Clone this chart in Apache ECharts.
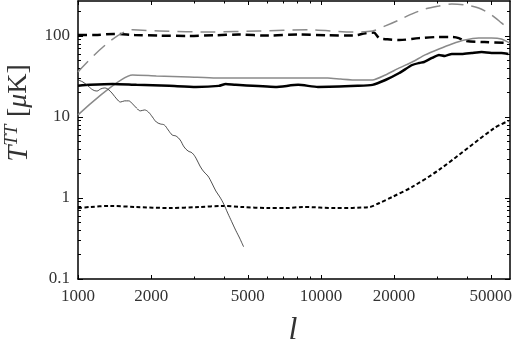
<!DOCTYPE html>
<html>
<head>
    <meta charset="UTF-8"/>
    <script type="text/javascript" src="https://cdn.jsdelivr.net/npm/echarts@6/dist/echarts.min.js"></script>
    <style>
        html, body { margin: 0; padding: 0; background: #fff; }
        #chart { width: 515px; height: 354px; }
    </style>
</head>
<body>
<div id="chart"></div>

<script type="application/javascript">
    // tick values
    var xMajor = [1000, 2000, 5000, 10000, 20000, 50000];
    var xMinor = [3000, 4000, 6000, 7000, 8000, 9000, 30000, 40000];
    var yMajor = [0.1, 1, 10, 100];
    var yMinor = [0.2, 0.3, 0.4, 0.5, 0.6, 0.7, 0.8, 0.9, 2, 3, 4, 5, 6, 7, 8, 9,
                  20, 30, 40, 50, 60, 70, 80, 90, 200];

    // thick black dashed
    var lA = [1000, 1173, 1403, 1709, 2161, 2865, 3624, 4583, 6077, 8056, 10680, 13510, 15270, 16460,
              17410, 18770, 21010, 25360, 30600, 34580, 36930, 39060, 47150, 59070];
    var tA = [103, 103, 106, 103, 101, 100, 102, 104, 101, 104, 102, 101, 108, 110,
              94, 91, 89, 94, 97, 97, 94, 87, 84, 82];

    // grey long dashed
    var lB = [1000, 1677, 2161, 3556, 5534, 8850, 13510, 16300, 18420, 21010, 23740, 26830, 30600,
              34580, 39060, 44570, 50360, 55340, 59700];
    var tB = [35.9, 119, 115, 112, 115, 119, 112, 115, 133, 158, 187, 215, 234,
              248, 241, 221, 182, 145, 119];

    // grey solid
    var lC = [1000, 1677, 2101, 2865, 3693, 6200, 10680, 12070, 14160, 16300, 18420, 21010, 23740,
              26830, 30600, 34580, 39060, 44570, 50360, 55340, 59700];
    var tC = [10.6, 33.0, 32.1, 31.2, 30.3, 30.3, 30.3, 29.4, 28.6, 28.6, 33.0, 40.3, 47.7,
              58.3, 69.1, 79.7, 89.2, 94.5, 94.5, 91.8, 82.0];

    // thick black solid
    var lD = [1000, 1119, 1390, 1741, 2374, 3060, 3799, 4056, 4457, 6490, 8056, 9723, 14160, 16300,
              18420, 21010, 23740, 25360, 26580, 28650, 30600, 32370, 34580, 37980, 41730, 45850,
              50360, 55340, 59070];
    var tD = [24.2, 24.9, 25.6, 24.9, 24.2, 23.5, 24.2, 25.6, 24.9, 23.5, 24.9, 23.5, 24.2, 24.9,
              28.6, 34.9, 43.8, 46.4, 47.7, 53.5, 58.3, 56.6, 60.0, 60.0, 61.7, 63.4,
              61.7, 61.7, 60.0];

    // black short dashed
    var lE = [1000, 1119, 1351, 1741, 2374, 3147, 3907, 4715, 6077, 7197, 8445, 11510, 15850,
              17410, 19670, 23740, 30600, 51800, 59070];
    var tE = [0.752, 0.774, 0.797, 0.774, 0.752, 0.774, 0.797, 0.774, 0.752, 0.752, 0.774, 0.752, 0.774,
              0.868, 1.03, 1.37, 2.22, 7.31, 8.93];

    // thin black oscillating
    var lF = [1000, 1048, 1099, 1151, 1196, 1241, 1289, 1338, 1390, 1443, 1498, 1555, 1615, 1677,
              1741, 1808, 1877, 1949, 2024, 2101, 2182, 2265, 2352, 2442, 2536, 2633, 2734, 2839,
              2948, 3060, 3177, 3299, 3425, 3556, 3693, 3835, 3981, 4134, 4292, 4457, 4627, 4804];
    var tF = [28.6, 27.0, 24.2, 21.6, 20.9, 22.2, 22.8, 21.6, 19.2, 16.7, 15.3, 15.8, 15.8, 14.5,
              12.9, 11.9, 12.2, 11.5, 10.0, 8.67, 8.2, 7.97, 6.9, 6.0, 5.8, 5.2, 4.26, 3.8,
              3.6, 3.1, 2.48, 2.1, 1.87, 1.53, 1.22, 1.03, 0.84, 0.65, 0.51, 0.40, 0.32, 0.25];

    var X_MIN = 1000, X_MAX = 60000, Y_MIN = 0.1, Y_MAX = 270;
    var FONT = 'Liberation Serif';

    function zip(xs, ys) {
        var out = [];
        for (var i = 0; i < xs.length; i++) {
            out.push([xs[i], ys[i]]);
        }
        return out;
    }

    function lg(arr) {
        return arr.map(function (v) { return Math.log10(v); });
    }

    // value axes in log10 space, only used for ticks / frame
    function decoX(pos, vals, len, withLine, withLabel) {
        return {
            type: 'value', position: pos, min: 3, max: Math.log10(X_MAX),
            axisLine: {show: withLine, onZero: false, lineStyle: {color: '#000', width: 1.5}},
            axisTick: {show: true, inside: true, length: len, customValues: lg(vals),
                       lineStyle: {color: '#000', width: 1}},
            axisLabel: {show: withLabel, customValues: lg(vals), margin: 9,
                        fontFamily: FONT, fontSize: 17, color: '#333',
                        formatter: function (v) { return String(Math.round(Math.pow(10, v))); }},
            splitLine: {show: false}
        };
    }

    function decoY(pos, vals, len, withLine, withLabel) {
        return {
            type: 'value', position: pos, min: -1, max: Math.log10(Y_MAX),
            axisLine: {show: withLine, onZero: false, lineStyle: {color: '#000', width: 1.5}},
            axisTick: {show: true, inside: true, length: len, customValues: lg(vals),
                       lineStyle: {color: '#000', width: 1}},
            axisLabel: {show: withLabel, customValues: lg(vals), margin: 8,
                        fontFamily: FONT, fontSize: 17, color: '#333',
                        formatter: function (v) {
                            return v < -0.5 ? '0.1' : String(Math.round(Math.pow(10, v)));
                        }},
            splitLine: {show: false}
        };
    }

    function mk(name, xs, ys, color, width, type, smooth) {
        return {
            name: name, type: 'line', xAxisIndex: 0, yAxisIndex: 0,
            data: zip(xs, ys), symbol: 'none', smooth: smooth,
            lineStyle: {color: color, width: width, type: type},
            z: 3
        };
    }

    var myChart = echarts.init(document.getElementById('chart'), null, {renderer: 'canvas'});
    var option = {
        animation: false,
        backgroundColor: '#fff',
        grid: {left: 78, right: 1, top: 1, bottom: 75, containLabel: false},
        xAxis: [
            {type: 'log', min: X_MIN, max: X_MAX, show: false},
            decoX('bottom', xMajor, 4, true, true),
            decoX('bottom', xMinor, 2.5, false, false),
            decoX('top', xMajor, 4, true, false),
            decoX('top', xMinor, 2.5, false, false)
        ],
        yAxis: [
            {type: 'log', min: Y_MIN, max: Y_MAX, show: false},
            decoY('left', yMajor, 5, true, true),
            decoY('left', yMinor, 3, false, false),
            decoY('right', yMajor, 5, true, false),
            decoY('right', yMinor, 3, false, false)
        ],
        graphic: [
            {
                type: 'text', x: 19, y: 113, rotation: Math.PI / 2,
                style: {
                    text: '{t|T}{s|TT}{g| }{b|[}{m|μ}{b|K]}',
                    fill: '#333', align: 'center', verticalAlign: 'middle',
                    rich: {
                        t: {fontFamily: FONT, fontStyle: 'italic', fontSize: 29, fill: '#333'},
                        s: {fontFamily: FONT, fontStyle: 'italic', fontSize: 19, fill: '#333',
                            verticalAlign: 'top', padding: [0, 0, 14, 0]},
                        g: {fontFamily: FONT, fontSize: 30},
                        b: {fontFamily: FONT, fontSize: 28, fill: '#333'},
                        m: {fontFamily: FONT, fontStyle: 'italic', fontSize: 28, fill: '#333'}
                    }
                }
            },
            {
                type: 'text', x: 293, y: 331,
                style: {
                    text: 'l', fill: '#333', align: 'center', verticalAlign: 'middle',
                    fontFamily: FONT, fontStyle: 'italic', fontSize: 32
                }
            }
        ],
        series: [
            mk('A', lA, tA, '#000', 2.5, [9, 5], 0.3),
            mk('B', lB, tB, '#8a8a8a', 1.5, [15, 8], 0.3),
            mk('C', lC, tC, '#8a8a8a', 1.5, 'solid', 0.2),
            mk('D', lD, tD, '#000', 2.5, 'solid', 0.2),
            mk('E', lE, tE, '#000', 2, [4, 2.5], 0.3),
            mk('F', lF, tF, '#222', 0.8, 'solid', 0.4)
        ]
    };
    myChart.setOption(option);
</script>
</body>
</html>
